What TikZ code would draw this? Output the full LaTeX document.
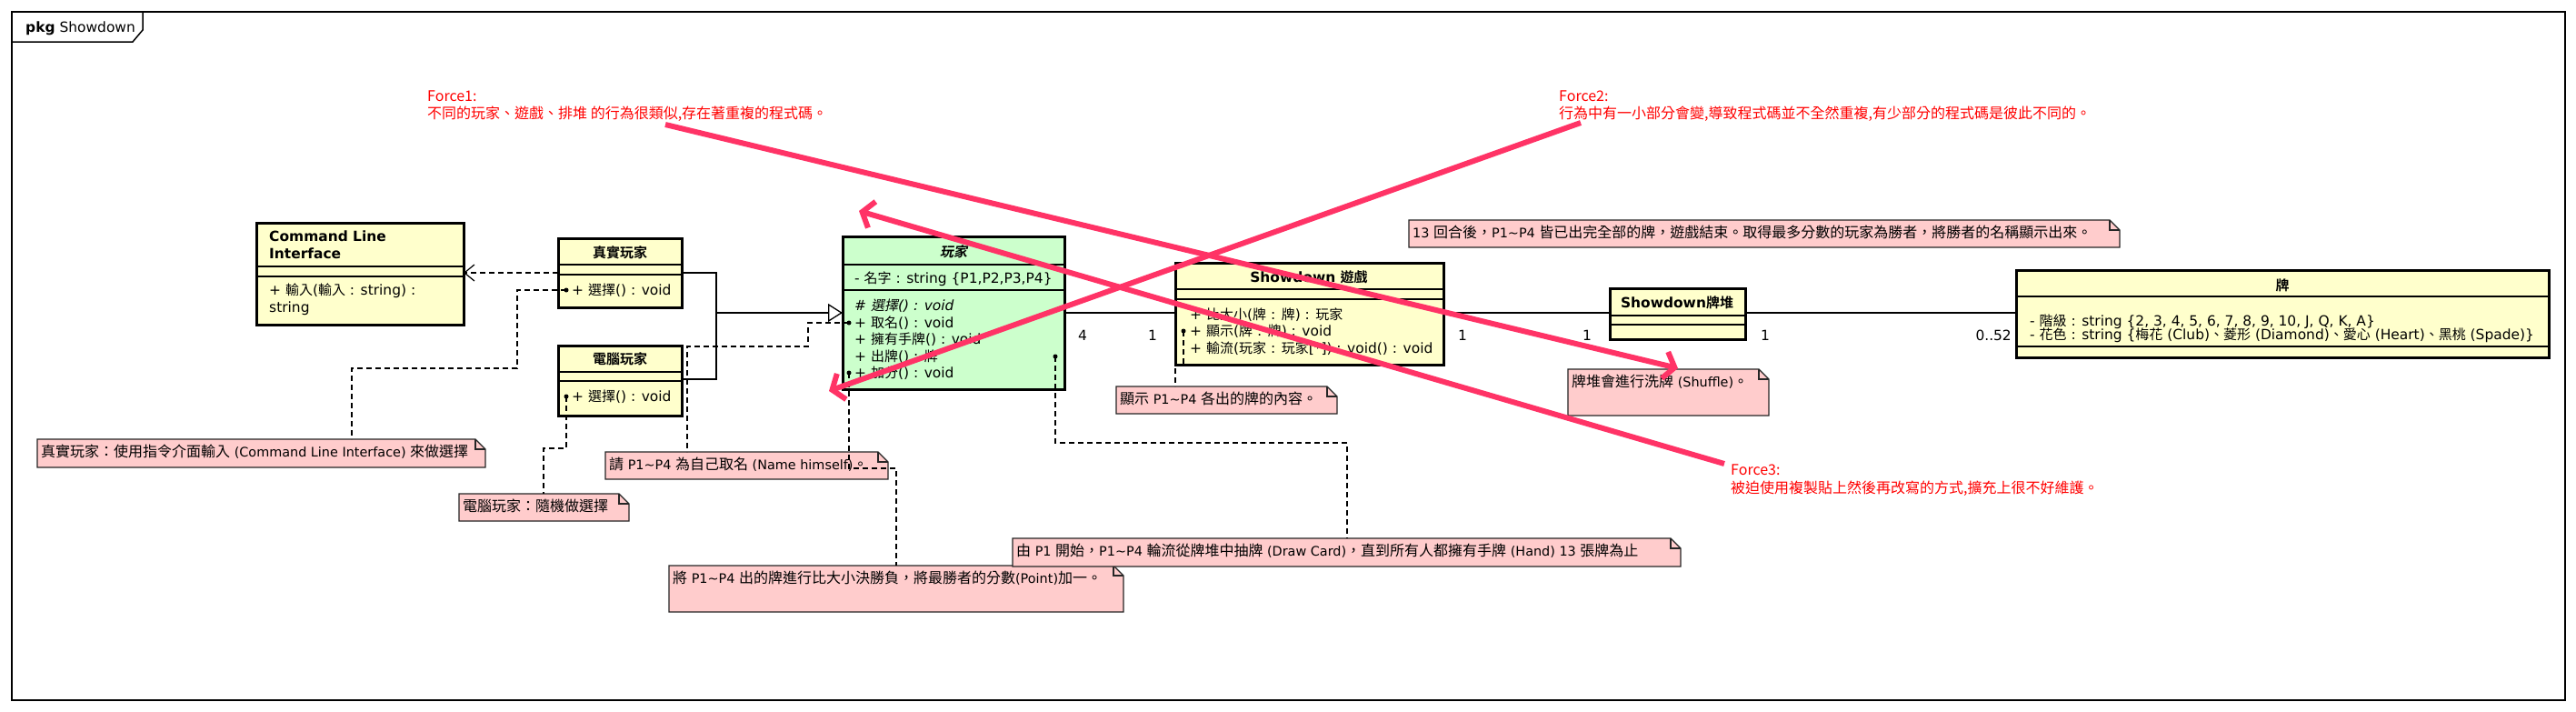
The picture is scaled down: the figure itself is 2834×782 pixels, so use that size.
\documentclass[tikz,border=0pt]{standalone}
\usepackage{fontspec}
\setmainfont{DejaVu Sans}[Scale=0.9]
\newfontfamily\latfam{DejaVu Sans}[Scale=0.9]
\newfontfamily\latfamB{DejaVu Sans}[Scale=1.03]
\newfontfamily\cjkfam{Noto Sans CJK TC}[BoldFont={Noto Sans CJK TC Bold}, ItalicFont={Noto Sans CJK TC}, ItalicFeatures={FakeSlant=0.2}, BoldItalicFont={Noto Sans CJK TC Bold}, BoldItalicFeatures={FakeSlant=0.2}]
\newcommand\mylatin{\latfam}
\makeatletter
\newXeTeXintercharclass\cjkcls
\count@="3000
\loop \XeTeXcharclass\count@=\cjkcls \advance\count@ by 1 \ifnum\count@<"3040 \repeat
\count@="4E00
\loop \XeTeXcharclass\count@=\cjkcls \advance\count@ by 1 \ifnum\count@<"A000 \repeat
\count@="FF00
\loop \XeTeXcharclass\count@=\cjkcls \advance\count@ by 1 \ifnum\count@<"FFF0 \repeat
\makeatother
\XeTeXinterchartoks 0 \cjkcls = {\cjkfam}
\XeTeXinterchartoks 4095 \cjkcls = {\cjkfam}
\XeTeXinterchartoks \cjkcls 0 = {\mylatin}
\XeTeXinterchartoks \cjkcls 4095 = {\mylatin}
\XeTeXinterchartokenstate=1
\usetikzlibrary{arrows.meta}
\definecolor{clsY}{RGB}{255,255,204}
\definecolor{clsG}{RGB}{204,255,204}
\definecolor{noteP}{RGB}{255,204,204}
\definecolor{forceC}{RGB}{255,51,102}
\definecolor{forceT}{RGB}{255,0,0}
\newcommand\tld{\textasciitilde{}}
\newcommand\boxfont{\let\mylatin\latfamB\latfamB\fontsize{15}{18}\selectfont}
\newcommand\umlnote[6]{%
  \node[notebase, minimum width=#4pt, minimum height=#5pt] (#1) at (#2,#3) {};
  \filldraw[notebd] (#1.north west) -- ([xshift=-11pt]#1.north east) -- ([yshift=-11pt]#1.north east) -- (#1.south east) -- (#1.south west) -- cycle;
  \draw[notebd, fill=none] ([xshift=-11pt]#1.north east) |- ([yshift=-11pt]#1.north east);
  \node[ntxt] at ([xshift=4pt,yshift=-14pt]#1.north west) {#6};
}
\begin{document}
\begin{tikzpicture}[x=1pt,y=-1pt,
  frame/.style={draw=black, line width=1.5pt},
  tab/.style={anchor=west, inner sep=0, font=\boxfont},
  clsbox/.style={draw=black, line width=3pt, anchor=north west, inner sep=0, outer sep=0},
  sep/.style={draw=black, line width=1.2pt},
  ctxt/.style={anchor=west, inner sep=0, font=\boxfont, text height=13pt, text depth=3pt},
  ttl/.style={anchor=center, inner sep=0, font=\boxfont\bfseries, text height=13pt, text depth=3pt},
  notebase/.style={anchor=north west, inner sep=0, outer sep=0},
  notebd/.style={draw=black!85, line width=1.3pt, fill=noteP},
  ntxt/.style={anchor=west, inner sep=0, font=\fontsize{16}{19}\selectfont, text height=13pt, text depth=3pt},
  ftxt/.style={anchor=west, inner sep=0, text=forceT, font=\let\mylatin\cjkfam\cjkfam\fontsize{16}{19}\selectfont, text height=13pt, text depth=3pt},
  mult/.style={anchor=center, inner sep=0, font=\boxfont, text height=13pt, text depth=3pt},
  assoc/.style={draw=black, line width=1.3pt},
  ndash/.style={draw=black, line width=1.1pt, dash pattern=on 6pt off 4pt},
  depline/.style={draw=black, line width=1.1pt, dash pattern=on 6pt off 4pt, -{Straight Barb[length=11pt,width=18pt,line width=1.2pt]}},
  genline/.style={draw=black, line width=1.3pt, -{Triangle[open,length=16pt,width=20pt,fill=white,line width=1.3pt]}},
  dotc/.style={fill=black, circle, inner sep=0, minimum size=5pt},
  forceline/.style={draw=forceC, line width=6pt, -{Straight Barb[length=11pt,width=30pt]}}
]
\useasboundingbox (0,0) rectangle (2834,782);
\fill[white] (0,0) rectangle (2834,782);
% frame
\draw[frame] (13,13) rectangle (2822,770);
\draw[frame] (13,46) -- (146,46) -- (157,33) -- (157,13);
\node[tab] (pkg) at (28,31) {\textbf{pkg} Showdown};

% ---------- classes ----------
\node[clsbox, fill=clsY, minimum width=228pt, minimum height=112pt] (cli) at (282,245) {};
\draw[sep] (cli.west |- 0,293) -- (cli.east |- 0,293);
\draw[sep] (cli.west |- 0,304) -- (cli.east |- 0,304);
\node[ctxt, font=\boxfont\bfseries] (cliT1) at (296,260) {Command Line};
\node[ctxt, font=\boxfont\bfseries] (cliT2) at (296,279) {Interface};
\node[ctxt] (cliA1) at (296,319) {+ 輸入(輸入 : string) :};
\node[ctxt] (cliA2) at (296,338) {string};

\node[clsbox, fill=clsY, minimum width=136pt, minimum height=76pt] (real) at (614,262) {};
\draw[sep] (real.west |- 0,291) -- (real.east |- 0,291);
\draw[sep] (real.west |- 0,302) -- (real.east |- 0,302);
\node[ttl] (realT) at (682,278) {真實玩家};
\node[ctxt] (realM) at (629,319) {+ 選擇() : void};
\node[dotc] (dReal) at (623,319) {};

\node[clsbox, fill=clsY, minimum width=136pt, minimum height=77pt] (comp) at (614,380) {};
\draw[sep] (comp.west |- 0,409) -- (comp.east |- 0,409);
\draw[sep] (comp.west |- 0,419) -- (comp.east |- 0,419);
\node[ttl] (compT) at (682,395) {電腦玩家};
\node[ctxt] (compM) at (629,436) {+ 選擇() : void};
\node[dotc] (dComp) at (623,436) {};

\node[clsbox, fill=clsG, minimum width=244pt, minimum height=168pt] (player) at (927,260) {};
\draw[sep] (player.west |- 0,291) -- (player.east |- 0,291);
\draw[sep] (player.west |- 0,319) -- (player.east |- 0,319);
\node[ttl, font=\boxfont\bfseries\itshape] (playerT) at (1049,277) {玩家};
\node[ctxt] (pA) at (940,306) {- 名字 : string \{P1,P2,P3,P4\}};
\node[ctxt, font=\boxfont\itshape] (pM1) at (940,336) {\# 選擇() : void};
\node[ctxt] (pM2) at (940,355) {+ 取名() : void};
\node[ctxt] (pM3) at (940,373) {+ 擁有手牌() : void};
\node[ctxt] (pM4) at (940,392) {+ 出牌() : 牌};
\node[ctxt] (pM5) at (940,410) {+ 加分() : void};
\node[dotc] (dName) at (934,355) {};
\node[dotc] (dPoint) at (934,410) {};
\node[dotc] (dDraw) at (1161,392) {};

\node[clsbox, fill=clsY, minimum width=295pt, minimum height=112pt] (game) at (1293,289) {};
\draw[sep] (game.west |- 0,318) -- (game.east |- 0,318);
\draw[sep] (game.west |- 0,329) -- (game.east |- 0,329);
\node[ttl] (gameT) at (1440,305) {Showdown 遊戲};
\node[ctxt] (gM1) at (1309,346) {+ 比大小(牌 : 牌) : 玩家};
\node[ctxt] (gM2) at (1309,364) {+ 顯示(牌 : 牌) : void};
\node[ctxt] (gM3) at (1309,383) {+ 輸流(玩家 : 玩家[*]) : void() : void};
\node[dotc] (dShow) at (1302,364) {};

\node[clsbox, fill=clsY, minimum width=149pt, minimum height=56pt] (deck) at (1771,317) {};
\draw[sep] (deck.west |- 0,347) -- (deck.east |- 0,347);
\draw[sep] (deck.west |- 0,357) -- (deck.east |- 0,357);
\node[ttl] (deckT) at (1845,333) {Showdown牌堆};

\node[clsbox, fill=clsY, minimum width=586pt, minimum height=96pt] (card) at (2218,297) {};
\draw[sep] (card.west |- 0,326) -- (card.east |- 0,326);
\draw[sep] (card.west |- 0,381) -- (card.east |- 0,381);
\node[ttl] (cardT) at (2511,314) {牌};
\node[ctxt] (cA1) at (2233,353) {- 階級 : string \{2, 3, 4, 5, 6, 7, 8, 9, 10, J, Q, K, A\}};
\node[ctxt] (cA2) at (2233,368) {- 花色 : string \{梅花 (Club)、菱形 (Diamond)、愛心 (Heart)、黑桃 (Spade)\}};

% ---------- class relations ----------
\draw[depline] (real.west |- 0,300) -- (cli.east |- 0,300);
\coordinate (genJ) at (788,344);
\draw[assoc] (real.east |- 0,300) -| (genJ) |- (comp.east |- 0,417);
\draw[genline] (genJ) -- (player.west |- genJ);
\draw[assoc] (player.east |- 0,344) -- (game.west |- 0,344);
\draw[assoc] (game.east |- 0,344) -- (deck.west |- 0,344);
\draw[assoc] (deck.east |- 0,344) -- (card.west |- 0,344);
\node[mult] (m1) at (1191,369) {4};
\node[mult] (m2) at (1268,369) {1};
\node[mult] (m3) at (1609,369) {1};
\node[mult] (m4) at (1746,369) {1};
\node[mult] (m5) at (1942,369) {1};
\node[mult, anchor=east] (m6) at (2213,369) {0..52};

% ---------- notes ----------
\umlnote{nReal}{41}{483}{493}{31}{真實玩家：使用指令介面輸入 (Command Line Interface) 來做選擇}
\umlnote{nComp}{505}{543}{187}{30}{電腦玩家：隨機做選擇}
\umlnote{nName}{666}{497}{311}{30}{請 P1\tld P4 為自己取名 (Name himself)。}
\umlnote{nPoint}{736}{622}{500}{51}{將 P1\tld P4 出的牌進行比大小決勝負，將最勝者的分數(Point)加一。}
\umlnote{nDraw}{1114}{592}{735}{31}{由 P1 開始，P1\tld P4 輪流從牌堆中抽牌 (Draw Card)，直到所有人都擁有手牌 (Hand) 13 張牌為止}
\umlnote{nShow}{1228}{425}{243}{30}{顯示 P1\tld P4 各出的牌的內容。}
\umlnote{nShuffle}{1725}{406}{221}{51}{牌堆會進行洗牌 (Shuffle)。}
\umlnote{nEnd}{1550}{242}{782}{30}{13 回合後，P1\tld P4 皆已出完全部的牌，遊戲結束。取得最多分數的玩家為勝者，將勝者的名稱顯示出來。}

% ---------- note connectors ----------
\draw[ndash] (dReal.center) -- (569,319) -- (569,405) -- (387,405) -- (nReal.north west -| 387,0);
\draw[ndash] (dComp.center) -- (623,493) -- (598,493) -- (nComp.north -| 598,0);
\draw[ndash] (dName.center) -- (889,355) -- (889,381) -- (756,381) -- (nName.north -| 756,0);
\draw[ndash] (dPoint.center) -- (934,515) -- (986,515) -- (nPoint.north -| 986,0);
\draw[ndash] (dDraw.center) -- (1161,487) -- (1482,487) -- (nDraw.north -| 1482,0);
\draw[ndash] (dShow.center) -- (1302,401) -- (1293,401) -- (nShow.north -| 1293,0);

% ---------- forces ----------
\node[ftxt] (f1a) at (470,106) {Force1:};
\node[ftxt] (f1b) at (470,125) {不同的玩家、遊戲、排堆 的行為很類似,存在著重複的程式碼。};
\node[ftxt] (f2a) at (1715,106) {Force2:};
\node[ftxt] (f2b) at (1715,125) {行為中有一小部分會變,導致程式碼並不全然重複,有少部分的程式碼是彼此不同的。};
\node[ftxt] (f3a) at (1904,517) {Force3:};
\node[ftxt] (f3b) at (1904,537) {被迫使用複製貼上然後再改寫的方式,擴充上很不好維護。};
\coordinate (f1s) at (732,137);
\coordinate (f1e) at (1846,405);
\coordinate (f2s) at (1739,135);
\coordinate (f2e) at (912,430);
\coordinate (f3s) at (1897,510);
\coordinate (f3e) at (945,232);
\draw[forceline] (f1s) -- (f1e);
\draw[forceline] (f2s) -- (f2e);
\draw[forceline] (f3s) -- (f3e);
\end{tikzpicture}
\end{document}
